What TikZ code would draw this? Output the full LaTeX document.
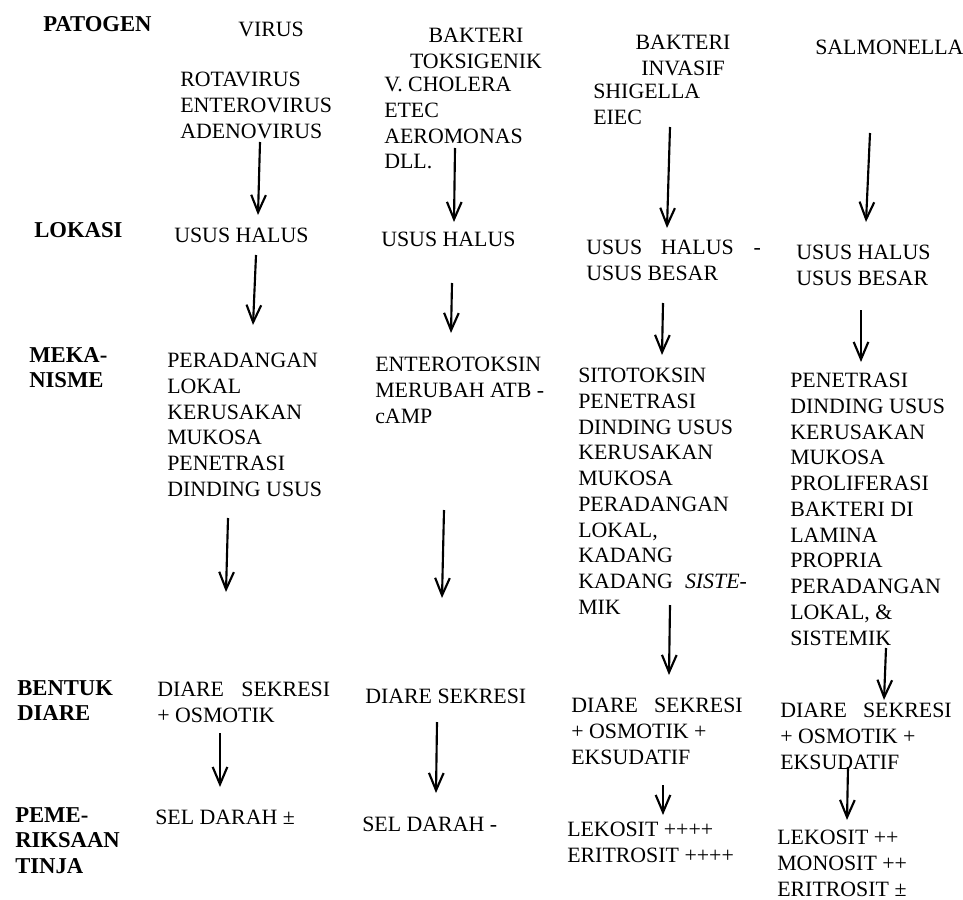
\documentclass[tikz,border=0pt]{standalone}
\usepackage{fontspec}
\setmainfont{Liberation Serif}
\usetikzlibrary{arrows.meta}
\begin{document}
\begin{tikzpicture}[x=0.75pt,y=-0.75pt,
  txt/.style={anchor=north west,inner sep=0pt,align=left,font=\fontsize{16.4}{19.3}\selectfont},
  lbl/.style={anchor=north west,inner sep=0pt,align=left,font=\fontsize{17}{19.3}\selectfont\bfseries},
  hdr/.style={anchor=north,inner sep=0pt,align=center,font=\fontsize{16.4}{19.3}\selectfont},
  arr/.style={-{Straight Barb[length=13pt,width=11pt]},line width=1.6pt}]
\useasboundingbox (0,0) rectangle (963,899);
% row labels
\node[lbl] (patogen) at (43,16) {PATOGEN};
\node[lbl] (lokasi) at (34,222) {LOKASI};
\node[lbl] (mekanisme) at (29,347) {MEKA-\\NISME};
\node[lbl] (bentuk) at (17,680) {BENTUK\\DIARE};
\node[lbl] (periksa) at (15,807) {PEME-\\RIKSAAN\\TINJA};
% column 1
\node[txt] (h1) at (238,22) {VIRUS};
\node[txt] (p1) at (180,72) {ROTAVIRUS\\ENTEROVIRUS\\ADENOVIRUS};
\node[txt] (l1) at (174,228) {USUS HALUS};
\node[txt] (m1) at (167,353) {PERADANGAN\\LOKAL\\KERUSAKAN\\MUKOSA\\PENETRASI\\DINDING USUS};
\node[txt] (b1) at (157,682) {DIARE\hspace{13pt}SEKRESI\\+ OSMOTIK};
\node[txt] (t1) at (155,810) {SEL DARAH ±};
% column 2
\node[hdr] (h2) at (476,28) {BAKTERI\\TOKSIGENIK};
\node[txt] (p2) at (384,77) {V. CHOLERA\\ETEC\\AEROMONAS\\DLL.};
\node[txt] (l2) at (381,232) {USUS HALUS};
\node[txt] (m2) at (375,357) {ENTEROTOKSIN\\MERUBAH ATB -\\cAMP};
\node[txt] (b2) at (365,689) {DIARE SEKRESI};
\node[txt] (t2) at (362,817) {SEL DARAH -};
% column 3
\node[hdr] (h3) at (683,35) {BAKTERI\\INVASIF};
\node[txt] (p3) at (593,84) {SHIGELLA\\EIEC};
\node[txt] (l3) at (586,240) {USUS\hspace{14pt}HALUS\hspace{15pt}-\\USUS BESAR};
\node[txt] (m3) at (578,368) {SITOTOKSIN\\PENETRASI\\DINDING USUS\\KERUSAKAN\\MUKOSA\\PERADANGAN\\LOKAL,\\KADANG\\KADANG\hspace{9pt}\textit{SISTE-}\\MIK};
\node[txt] (b3) at (571,698) {DIARE\hspace{12pt}SEKRESI\\+ OSMOTIK +\\EKSUDATIF};
\node[txt] (t3) at (567,822) {LEKOSIT ++++\\ERITROSIT ++++};
% column 4
\node[txt] (h4) at (815,40) {SALMONELLA};
\node[txt] (l4) at (796,245) {USUS HALUS\\USUS BESAR};
\node[txt] (m4) at (790,373) {PENETRASI\\DINDING USUS\\KERUSAKAN\\MUKOSA\\PROLIFERASI\\BAKTERI DI\\LAMINA\\PROPRIA\\PERADANGAN\\LOKAL, \&\\SISTEMIK};
\node[txt] (b4) at (780,703) {DIARE\hspace{12pt}SEKRESI\\+ OSMOTIK +\\EKSUDATIF};
\node[txt] (t4) at (777,830) {LEKOSIT ++\\MONOSIT ++\\ERITROSIT ±};
% arrow end points
\coordinate (a1s) at (260,142); \coordinate (a1e) at (258,215);
\coordinate (a2s) at (455,148); \coordinate (a2e) at (454,222);
\coordinate (a3s) at (670,127); \coordinate (a3e) at (667,228);
\coordinate (a4s) at (870,133); \coordinate (a4e) at (866,222);
\coordinate (b1s) at (256,255); \coordinate (b1e) at (253,325);
\coordinate (b2s) at (452,283); \coordinate (b2e) at (451,333);
\coordinate (b3s) at (663,303); \coordinate (b3e) at (662,355);
\coordinate (b4s) at (861,310); \coordinate (b4e) at (861,362);
\coordinate (c1s) at (228,518); \coordinate (c1e) at (226,592);
\coordinate (c2s) at (444,510); \coordinate (c2e) at (442,598);
\coordinate (c3s) at (670,605); \coordinate (c3e) at (669,675);
\coordinate (c4s) at (886,648); \coordinate (c4e) at (884,700);
\coordinate (d1s) at (220,733); \coordinate (d1e) at (220,787);
\coordinate (d2s) at (437,722); \coordinate (d2e) at (436,793);
\coordinate (d3s) at (663,785); \coordinate (d3e) at (663,815);
\coordinate (d4s) at (848,767); \coordinate (d4e) at (847,820);
\foreach \r in {a,b,c,d}{
  \foreach \c in {1,2,3,4}{
    \draw[arr] (\r\c s) -- (\r\c e);
  }
}
\end{tikzpicture}
\end{document}
